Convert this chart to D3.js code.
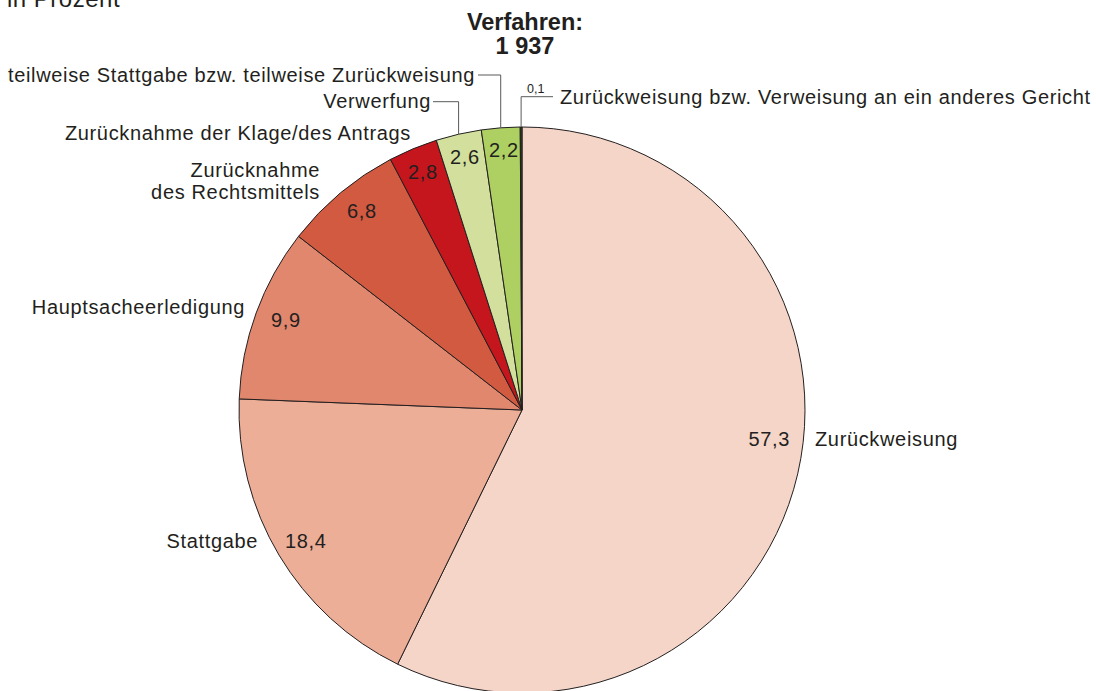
<!DOCTYPE html>
<html><head><meta charset="utf-8">
<script src="https://cdn.jsdelivr.net/npm/d3@7"></script>
<style>
html,body{margin:0;padding:0;background:#fff;}
svg{display:block;font-family:"Liberation Sans",Arial,Helvetica,sans-serif;}
</style></head>
<body><svg id="chart" width="1096" height="691"></svg>
<script>
// ---- data ----
const categories = [
  "Zurückweisung",
  "Stattgabe",
  "Hauptsacheerledigung",
  "Zurücknahme des Rechtsmittels",
  "Zurücknahme der Klage/des Antrags",
  "Verwerfung",
  "teilweise Stattgabe bzw. teilweise Zurückweisung",
  "Zurückweisung bzw. Verweisung an ein anderes Gericht"
];
const values = [57.3, 18.4, 9.9, 6.8, 2.8, 2.6, 2.2, 0.1];
const titleLines = ["Verfahren:", "1 937"];
const unitLabel = "in Prozent";

// ---- styles / layout ----
const colors = ["#f5d5c8","#ecae97","#e0876e","#d15a40","#c4161c","#d3df9d","#aecf62","#2a4a1c"];
const cx = 522, cy = 410, R = 283;
const textColor = "#231f20";
const fs = 20, ls = 0.65;

// name label layout: lines, anchor, x, baseline y
const nameLayout = [
  {lines:["Zurückweisung"], anchor:"start", x:815, y:446},
  {lines:["Stattgabe"], anchor:"end", x:258, y:548},
  {lines:["Hauptsacheerledigung"], anchor:"end", x:245, y:314},
  {lines:["Zurücknahme","des Rechtsmittels"], anchor:"end", x:320, y:177},
  {lines:["Zurücknahme der Klage/des Antrags"], anchor:"end", x:411, y:140},
  {lines:["Verwerfung"], anchor:"end", x:431, y:108, leaderY:101.7, leaderX0:433},
  {lines:["teilweise Stattgabe bzw. teilweise Zurückweisung"], anchor:"end", x:475, y:82, leaderY:75, leaderX0:478},
  {lines:["Zurückweisung bzw. Verweisung an ein anderes Gericht"], anchor:"start", x:560, y:104, leaderY:96.7, leaderX1:553}
];
const valueLayout = [
  {anchor:"end", x:790, y:446},
  {anchor:"start", x:285, y:548},
  {anchor:"start", x:271, y:327},
  {anchor:"start", x:347, y:218},
  {anchor:"start", x:408, y:179},
  {anchor:"start", x:450, y:164},
  {anchor:"start", x:489, y:157},
  {anchor:"start", x:527, y:93, small:true}
];

const de = d3.formatLocale({decimal:",", thousands:" ", grouping:[3], currency:["","€"]});
const fmt = de.format(".1f");

const svg = d3.select("#chart");

svg.append("text").attr("x",7).attr("y",7).attr("font-size",24).attr("letter-spacing",0.5)
  .attr("fill",textColor).text(unitLabel);

titleLines.forEach((t,i)=>{
  svg.append("text").attr("x",525).attr("y",30+i*23.5).attr("text-anchor","middle")
    .attr("font-size",23.5).attr("font-weight","bold").attr("fill",textColor).text(t);
});

const pie = d3.pie().sort(null).value(d=>d).startAngle(0).endAngle(2*Math.PI);
const arcs = pie(values);
const arc = d3.arc().innerRadius(0).outerRadius(R);
const g = svg.append("g").attr("transform",`translate(${cx},${cy})`);

g.selectAll("path").data(arcs).join("path")
  .attr("d",arc)
  .attr("fill",(d,i)=>colors[i])
  .attr("stroke","#231f20")
  .attr("stroke-width",1)
  .attr("stroke-linejoin","round");

// leaders
arcs.forEach((d,i)=>{
  const L = nameLayout[i];
  if(L.leaderY===undefined) return;
  const a = (d.startAngle+d.endAngle)/2;
  const px = cx + R*Math.sin(a), py = cy - R*Math.cos(a);
  let pts;
  if(L.leaderX0!==undefined) pts = [[L.leaderX0,L.leaderY],[px,L.leaderY],[px,py]];
  else pts = [[px,py],[px,L.leaderY],[L.leaderX1,L.leaderY]];
  svg.append("path").attr("d",d3.line()(pts)).attr("fill","none")
    .attr("stroke","#58595b").attr("stroke-width",1);
});

// names
nameLayout.forEach((L,i)=>{
  const t = svg.append("text").attr("x",L.x).attr("y",L.y).attr("text-anchor",L.anchor)
    .attr("font-size",fs).attr("letter-spacing",ls).attr("fill",textColor);
  L.lines.forEach((ln,j)=>{
    t.append("tspan").attr("x",L.x).attr("dy",j===0?0:22).text(ln);
  });
});

// values
valueLayout.forEach((L,i)=>{
  svg.append("text").attr("x",L.x).attr("y",L.y).attr("text-anchor",L.anchor)
    .attr("font-size",L.small?12.5:fs).attr("letter-spacing",L.small?0:ls)
    .attr("fill",textColor).text(fmt(values[i]));
});
</script></body></html>
